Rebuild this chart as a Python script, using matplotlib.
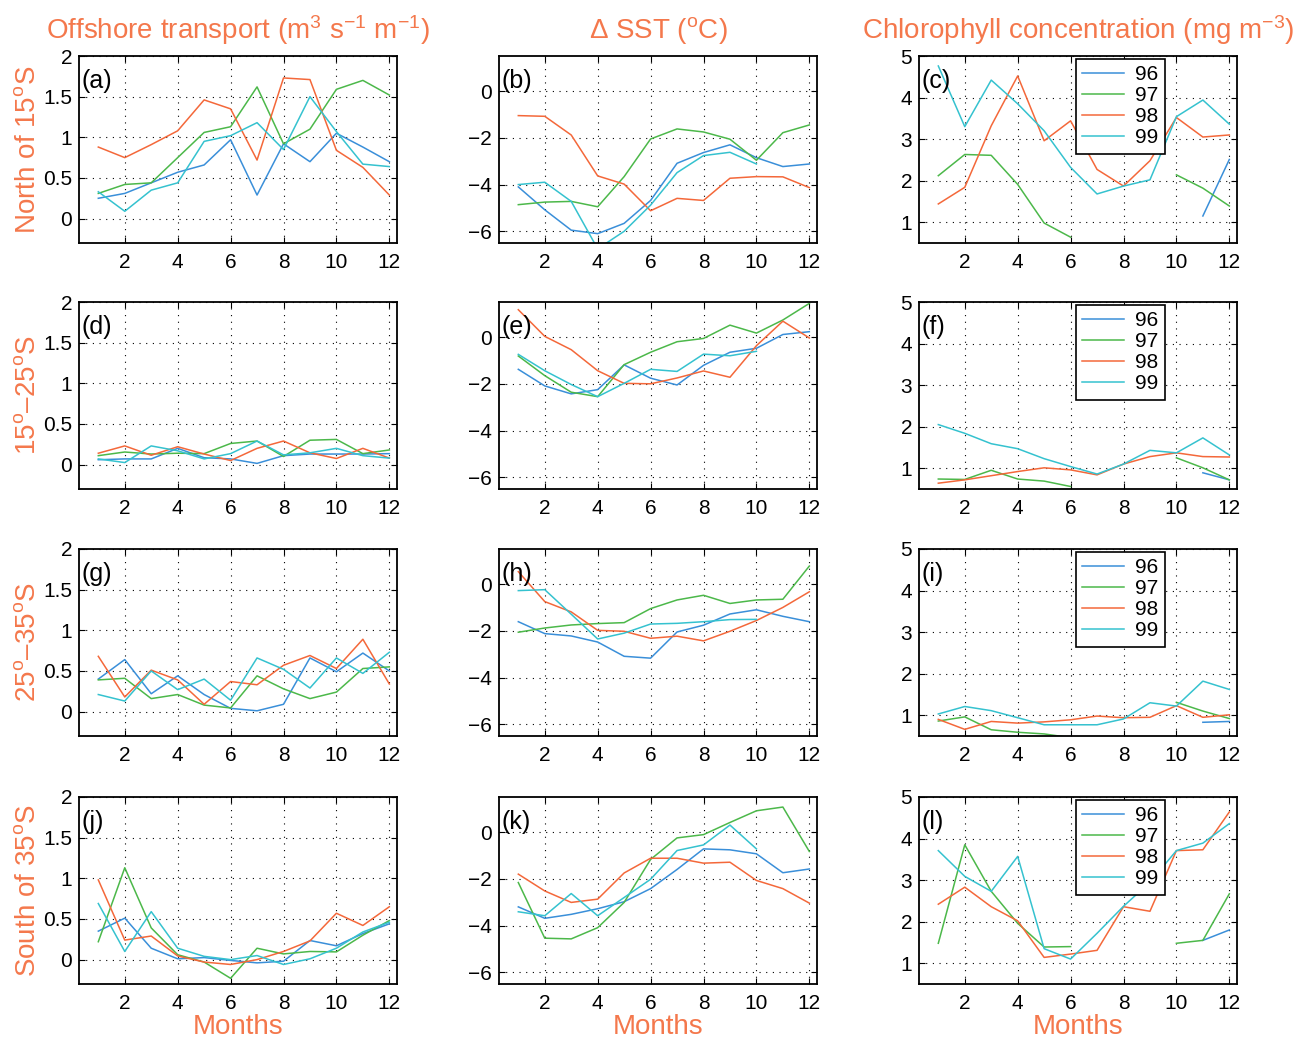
import numpy as np
import matplotlib
matplotlib.use("Agg")
import matplotlib.pyplot as plt

nan = np.nan
months = np.arange(1, 13)
years = ["96", "97", "98", "99"]
colors = ["#3a8fd9", "#4cb84a", "#f4683a", "#35c2cf"]
text_orange = "#f4784c"

col_titles = ["Offshore transport (m$^3$ s$^{-1}$ m$^{-1}$)",
              "$\\Delta$ SST ($^\\mathrm{o}$C)",
              "Chlorophyll concentration (mg m$^{-3}$)"]
row_titles = ["North of 15$^\\mathrm{o}$S",
              "15$^\\mathrm{o}$\u201325$^\\mathrm{o}$S",
              "25$^\\mathrm{o}$\u201335$^\\mathrm{o}$S",
              "South of 35$^\\mathrm{o}$S"]
panel_tags = ["(a)", "(b)", "(c)", "(d)", "(e)", "(f)",
              "(g)", "(h)", "(i)", "(j)", "(k)", "(l)"]

# Offshore transport, rows: 96, 97, 98, 99
transport_n15 = [
    [0.25, 0.31, 0.44, 0.57, 0.66, 0.97, 0.29, 0.92, 0.70, 1.05, 0.88, 0.70],
    [0.31, 0.42, 0.44, 0.75, 1.06, 1.13, 1.62, 0.92, 1.10, 1.59, 1.70, 1.52],
    [0.88, 0.75, 0.91, 1.08, 1.46, 1.35, 0.72, 1.73, 1.71, 0.84, 0.63, 0.29],
    [0.33, 0.09, 0.35, 0.44, 0.95, 1.02, 1.18, 0.85, 1.50, 1.07, 0.67, 0.64],
]
transport_15_25 = [
    [0.06, 0.07, 0.07, 0.20, 0.085, 0.07, 0.015, 0.11, 0.13, 0.13, 0.13, 0.135],
    [0.11, 0.155, 0.13, 0.14, 0.135, 0.26, 0.29, 0.10, 0.30, 0.31, 0.135, 0.18],
    [0.14, 0.23, 0.115, 0.22, 0.13, 0.05, 0.20, 0.29, 0.145, 0.075, 0.20, 0.08],
    [0.07, 0.025, 0.23, 0.17, 0.07, 0.135, 0.29, 0.12, 0.145, 0.20, 0.11, 0.08],
]
transport_25_35 = [
    [0.40, 0.64, 0.22, 0.44, 0.21, 0.04, 0.01, 0.09, 0.66, 0.49, 0.72, 0.50],
    [0.39, 0.41, 0.16, 0.21, 0.08, 0.045, 0.44, 0.28, 0.16, 0.24, 0.53, 0.55],
    [0.68, 0.18, 0.51, 0.39, 0.09, 0.37, 0.33, 0.57, 0.69, 0.53, 0.89, 0.34],
    [0.21, 0.13, 0.50, 0.27, 0.40, 0.14, 0.66, 0.52, 0.29, 0.66, 0.47, 0.73],
]
transport_s35 = [
    [0.35, 0.51, 0.14, 0.01, 0.025, -0.01, -0.04, -0.02, 0.235, 0.17, 0.32, 0.44],
    [0.22, 1.13, 0.39, 0.06, -0.03, -0.23, 0.14, 0.07, 0.10, 0.095, 0.30, 0.48],
    [0.98, 0.24, 0.29, 0.045, -0.03, -0.06, 0.0, 0.10, 0.23, 0.57, 0.42, 0.65],
    [0.69, 0.10, 0.59, 0.14, 0.04, 0.0, 0.05, -0.06, 0.01, 0.14, 0.34, 0.46],
]

# SST anomaly (deg C)
sst_n15 = [
    [-4.10, -5.08, -5.95, -6.10, -5.66, -4.68, -3.09, -2.63, -2.30, -2.85, -3.23, -3.12],
    [-4.86, -4.75, -4.72, -4.95, -3.66, -2.05, -1.62, -1.75, -2.06, -2.96, -1.78, -1.45],
    [-1.05, -1.08, -1.88, -3.63, -3.98, -5.12, -4.59, -4.68, -3.73, -3.66, -3.67, -4.13],
    [-4.00, -3.90, -4.72, -6.75, -6.00, -4.88, -3.49, -2.76, -2.62, -3.12, nan, nan],
]
sst_15_25 = [
    [-1.38, -2.09, -2.43, -2.25, -1.19, -1.76, -2.05, -1.21, -0.65, -0.48, 0.11, 0.23],
    [-0.81, -1.65, -2.36, -2.55, -1.18, -0.65, -0.20, -0.06, 0.51, 0.17, 0.73, 1.44],
    [1.17, 0.03, -0.54, -1.44, -1.98, -2.00, -1.75, -1.45, -1.72, -0.37, 0.68, -0.04],
    [-0.74, -1.44, -2.03, -2.55, -1.98, -1.38, -1.47, -0.73, -0.80, -0.61, nan, nan],
]
sst_25_35 = [
    [-1.61, -2.12, -2.22, -2.48, -3.09, -3.17, -2.05, -1.76, -1.28, -1.10, -1.38, -1.61],
    [-2.06, -1.88, -1.75, -1.69, -1.65, -1.05, -0.68, -0.48, -0.83, -0.68, -0.65, 0.77],
    [0.53, -0.75, -1.19, -1.98, -2.02, -2.32, -2.23, -2.43, -2.02, -1.56, -1.00, -0.33],
    [-0.28, -0.24, -1.29, -2.35, -2.10, -1.71, -1.68, -1.61, -1.52, -1.51, nan, nan],
]
sst_s35 = [
    [-3.20, -3.69, -3.52, -3.28, -2.98, -2.42, -1.60, -0.72, -0.76, -0.93, -1.74, -1.58],
    [-2.16, -4.54, -4.57, -4.09, -3.01, -1.17, -0.25, -0.11, 0.41, 0.91, 1.07, -0.83],
    [-1.80, -2.52, -3.01, -2.87, -1.75, -1.12, -1.12, -1.33, -1.29, -2.07, -2.42, -3.04],
    [-3.41, -3.58, -2.63, -3.58, -2.80, -2.02, -0.79, -0.55, 0.30, -0.72, nan, nan],
]

# Chlorophyll concentration (mg m^-3)
chl_n15 = [
    [nan, nan, nan, nan, nan, nan, nan, nan, nan, nan, 1.15, 2.51],
    [2.12, 2.63, 2.61, 1.91, 0.98, 0.64, nan, nan, nan, 2.14, 1.82, 1.39],
    [1.44, 1.84, 3.32, 4.52, 2.96, 3.44, 2.27, 1.87, 2.48, 3.52, 3.05, 3.10],
    [4.76, 3.30, 4.42, 3.85, 3.20, 2.32, 1.68, 1.87, 2.02, 3.54, 3.94, 3.36],
]
chl_15_25 = [
    [nan, nan, nan, nan, nan, nan, nan, nan, nan, nan, 0.89, 0.72],
    [0.74, 0.73, 0.95, 0.74, 0.69, 0.56, nan, nan, nan, 1.25, 1.01, 0.72],
    [0.64, 0.72, 0.82, 0.92, 1.01, 0.96, 0.84, 1.10, 1.28, 1.37, 1.28, 1.27],
    [2.05, 1.84, 1.59, 1.47, 1.23, 1.04, 0.86, 1.10, 1.43, 1.37, 1.73, 1.32],
]
chl_25_35 = [
    [nan, nan, nan, nan, nan, nan, nan, nan, nan, nan, 0.83, 0.85],
    [0.86, 0.96, 0.65, 0.59, 0.55, 0.46, nan, nan, nan, 1.31, 1.10, 0.92],
    [0.90, 0.66, 0.85, 0.81, 0.84, 0.89, 0.98, 0.94, 0.95, 1.23, 0.95, 1.01],
    [1.03, 1.21, 1.11, 0.94, 0.77, 0.77, 0.77, 0.91, 1.30, 1.22, 1.82, 1.62],
]
chl_s35 = [
    [nan, nan, nan, nan, nan, nan, nan, nan, nan, nan, 1.55, 1.80],
    [1.48, 3.85, 2.73, 1.96, 1.39, 1.40, nan, nan, nan, 1.48, 1.55, 2.67],
    [2.42, 2.83, 2.36, 2.02, 1.14, 1.22, 1.31, 2.36, 2.25, 3.71, 3.73, 4.64],
    [3.71, 3.09, 2.73, 3.57, 1.35, 1.10, 1.72, 2.37, 2.95, 3.71, 3.89, 4.36],
]

grid_data = [
    [transport_n15, sst_n15, chl_n15],
    [transport_15_25, sst_15_25, chl_15_25],
    [transport_25_35, sst_25_35, chl_25_35],
    [transport_s35, sst_s35, chl_s35],
]
col_ylim = [(-0.3, 2.0), (-6.5, 1.5), (0.5, 5.0)]
col_yticks = [[0, 0.5, 1, 1.5, 2], [-6, -4, -2, 0], [1, 2, 3, 4, 5]]
col_yticklabels = [["0", "0.5", "1", "1.5", "2"],
                   ["\u22126", "\u22124", "\u22122", "0"],
                   ["1", "2", "3", "4", "5"]]

plt.rcParams["font.family"] = ["Liberation Sans", "DejaVu Sans"]
plt.rcParams["mathtext.fontset"] = "custom"
plt.rcParams["mathtext.rm"] = "Liberation Sans"
plt.rcParams["mathtext.it"] = "Liberation Sans:italic"

W, H = 1304, 1040
fig = plt.figure(figsize=(W / 100, H / 100), dpi=100)

col_left = [79, 499, 919]
row_top = [56, 302, 549, 797]
ax_w, ax_h = 318, 187

for r in range(4):
    for c in range(3):
        x0 = col_left[c] / W
        y0 = 1 - (row_top[r] + ax_h) / H
        ax = fig.add_axes([x0, y0, ax_w / W, ax_h / H])
        series = grid_data[r][c]
        handles = []
        for k in range(4):
            h, = ax.plot(months, series[k], color=colors[k], lw=1.1,
                         label=years[k])
            handles.append(h)
        ax.set_xlim(0.27, 12.29)
        ax.set_ylim(*col_ylim[c])
        ax.set_xticks(range(2, 13, 2))
        ax.set_yticks(col_yticks[c])
        ax.set_yticklabels(col_yticklabels[c])
        ax.tick_params(direction="in", length=4, width=0.8, labelsize=15,
                       colors="black", top=True, right=True)
        ax.tick_params(axis="x", pad=7)
        ax.tick_params(axis="y", pad=5)
        ax.grid(True, color="black", linestyle=(0, (1, 5)), linewidth=0.8)
        for sp in ax.spines.values():
            sp.set_linewidth(1.3)
        ax.text(0.008, 0.93, panel_tags[r * 3 + c], transform=ax.transAxes,
                fontsize=18, va="top", ha="left")
        if c == 2:
            leg = ax.legend(handles=handles, loc="upper left",
                            bbox_to_anchor=(0.494, 0.985), fontsize=15,
                            frameon=True, fancybox=False, framealpha=1,
                            edgecolor="black", handlelength=2.0,
                            handletextpad=0.55, borderpad=0.3,
                            labelspacing=0.1, borderaxespad=0)
            leg.get_frame().set_linewidth(1.2)
        if c == 0:
            fig.text(28 / W, 1 - (row_top[r] + ax_h / 2) / H, row_titles[r],
                     rotation=90, ha="center", va="center", fontsize=20,
                     color=text_orange)
        if r == 0:
            fig.text((col_left[c] + ax_w / 2) / W, 1 - 30 / H, col_titles[c],
                     ha="center", va="center", fontsize=20, color=text_orange)
        if r == 3:
            fig.text((col_left[c] + ax_w / 2) / W, 1 - 1027 / H, "Months",
                     ha="center", va="center", fontsize=20, color=text_orange)

fig.savefig("out.png", dpi=100)
